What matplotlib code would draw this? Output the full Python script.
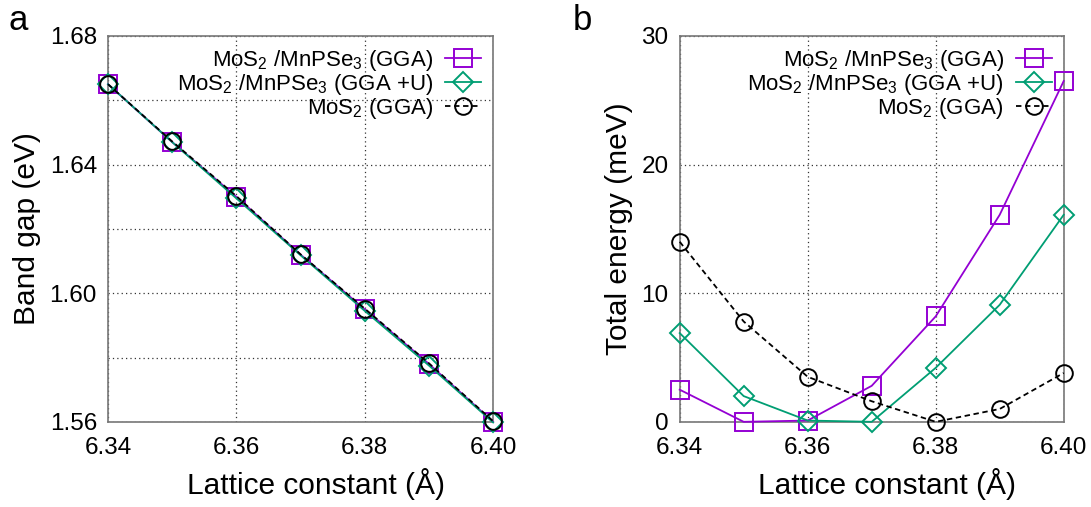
import matplotlib.pyplot as plt
from matplotlib.ticker import FixedLocator

plt.rcParams['font.family'] = ['Liberation Sans', 'DejaVu Sans']
plt.rcParams['mathtext.fontset'] = 'custom'
plt.rcParams['mathtext.rm'] = 'Liberation Sans'
plt.rcParams['mathtext.it'] = 'Liberation Sans'

lattice = [6.34, 6.35, 6.36, 6.37, 6.38, 6.39, 6.40]

# band gaps (eV)
gap_gga = [1.665, 1.647, 1.630, 1.612, 1.595, 1.578, 1.560]
gap_ggau = [1.665, 1.647, 1.6295, 1.6118, 1.5945, 1.5775, 1.5598]
gap_mos2 = [1.665, 1.6472, 1.6302, 1.6121, 1.5952, 1.5782, 1.5602]

# relative total energies (meV)
en_gga = [2.5, 0.0, 0.1, 2.8, 8.2, 16.1, 26.5]
en_ggau = [6.9, 2.0, 0.1, 0.0, 4.2, 9.1, 16.1]
en_mos2 = [14.0, 7.8, 3.5, 1.6, 0.0, 1.0, 3.8]

labels = [r'MoS$_2$ /MnPSe$_3$ (GGA)',
          r'MoS$_2$ /MnPSe$_3$ (GGA +U)',
          r'MoS$_2$ (GGA)']

purple = '#9400D3'
green = '#009E73'
frame = '#777777'
grid_kw = dict(color='#333333', linestyle=(0, (1, 2.5)), linewidth=0.9)

fig = plt.figure(figsize=(10.91, 5.07), dpi=100)
ax_a = fig.add_axes([0.099, 0.168, 0.353, 0.761])
ax_b = fig.add_axes([0.623, 0.168, 0.352, 0.761])


def draw(ax, y1, y2, y3):
    ax.plot(lattice, y1, color=purple, lw=1.3, marker='s', ms=12.5,
            mfc='none', mec=purple, mew=1.4, clip_on=False, label=labels[0], zorder=3)
    ax.plot(lattice, y2, color=green, lw=1.3, marker='D', ms=10,
            mfc='none', mec=green, mew=1.4, clip_on=False, label=labels[1], zorder=4)
    ax.plot(lattice, y3, color='black', lw=1.3, ls=(0, (3, 2)), marker='o', ms=12,
            mfc='none', mec='black', mew=1.4, clip_on=False, label=labels[2], zorder=5)
    ax.set_xlim(6.34, 6.40)
    ax.set_xticks([6.34, 6.36, 6.38, 6.40])
    ax.set_xticklabels(['6.34', '6.36', '6.38', '6.40'])
    ax.tick_params(length=0, labelsize=17.5, pad=8)
    ax.tick_params(axis='x', pad=11)
    for s in ax.spines.values():
        s.set_color(frame)
        s.set_linewidth(1.2)
    ax.grid(True, which='both', **grid_kw)
    ax.set_axisbelow(True)
    ax.set_xlabel('Lattice constant (Å)', fontsize=21.5)
    ax.xaxis.set_label_coords(0.54, -0.12)
    leg = ax.legend(loc='upper right', frameon=False, markerfirst=False,
                    fontsize=16, handlelength=1.6, handletextpad=0.55,
                    labelspacing=-0.05, borderaxespad=0.3, borderpad=0.25)
    return leg


leg_a = draw(ax_a, gap_gga, gap_ggau, gap_mos2)
ax_a.set_ylim(1.56, 1.68)
ax_a.set_yticks([1.56, 1.60, 1.64, 1.68])
ax_a.set_yticklabels(['1.56', '1.60', '1.64', '1.68'])
ax_a.yaxis.set_minor_locator(FixedLocator([1.58, 1.62, 1.66]))
ax_a.tick_params(which='minor', length=0)
ax_a.set_ylabel('Band gap (eV)', fontsize=21.5, labelpad=6)

leg_b = draw(ax_b, en_gga, en_ggau, en_mos2)
ax_b.set_ylim(0, 30)
ax_b.set_yticks([0, 10, 20, 30])
ax_b.set_ylabel('Total energy (meV)', fontsize=21.5, labelpad=6)

fig.text(0.008, 0.94, 'a', fontsize=25)
fig.text(0.525, 0.94, 'b', fontsize=25)

fig.savefig('out.png', dpi=100)
